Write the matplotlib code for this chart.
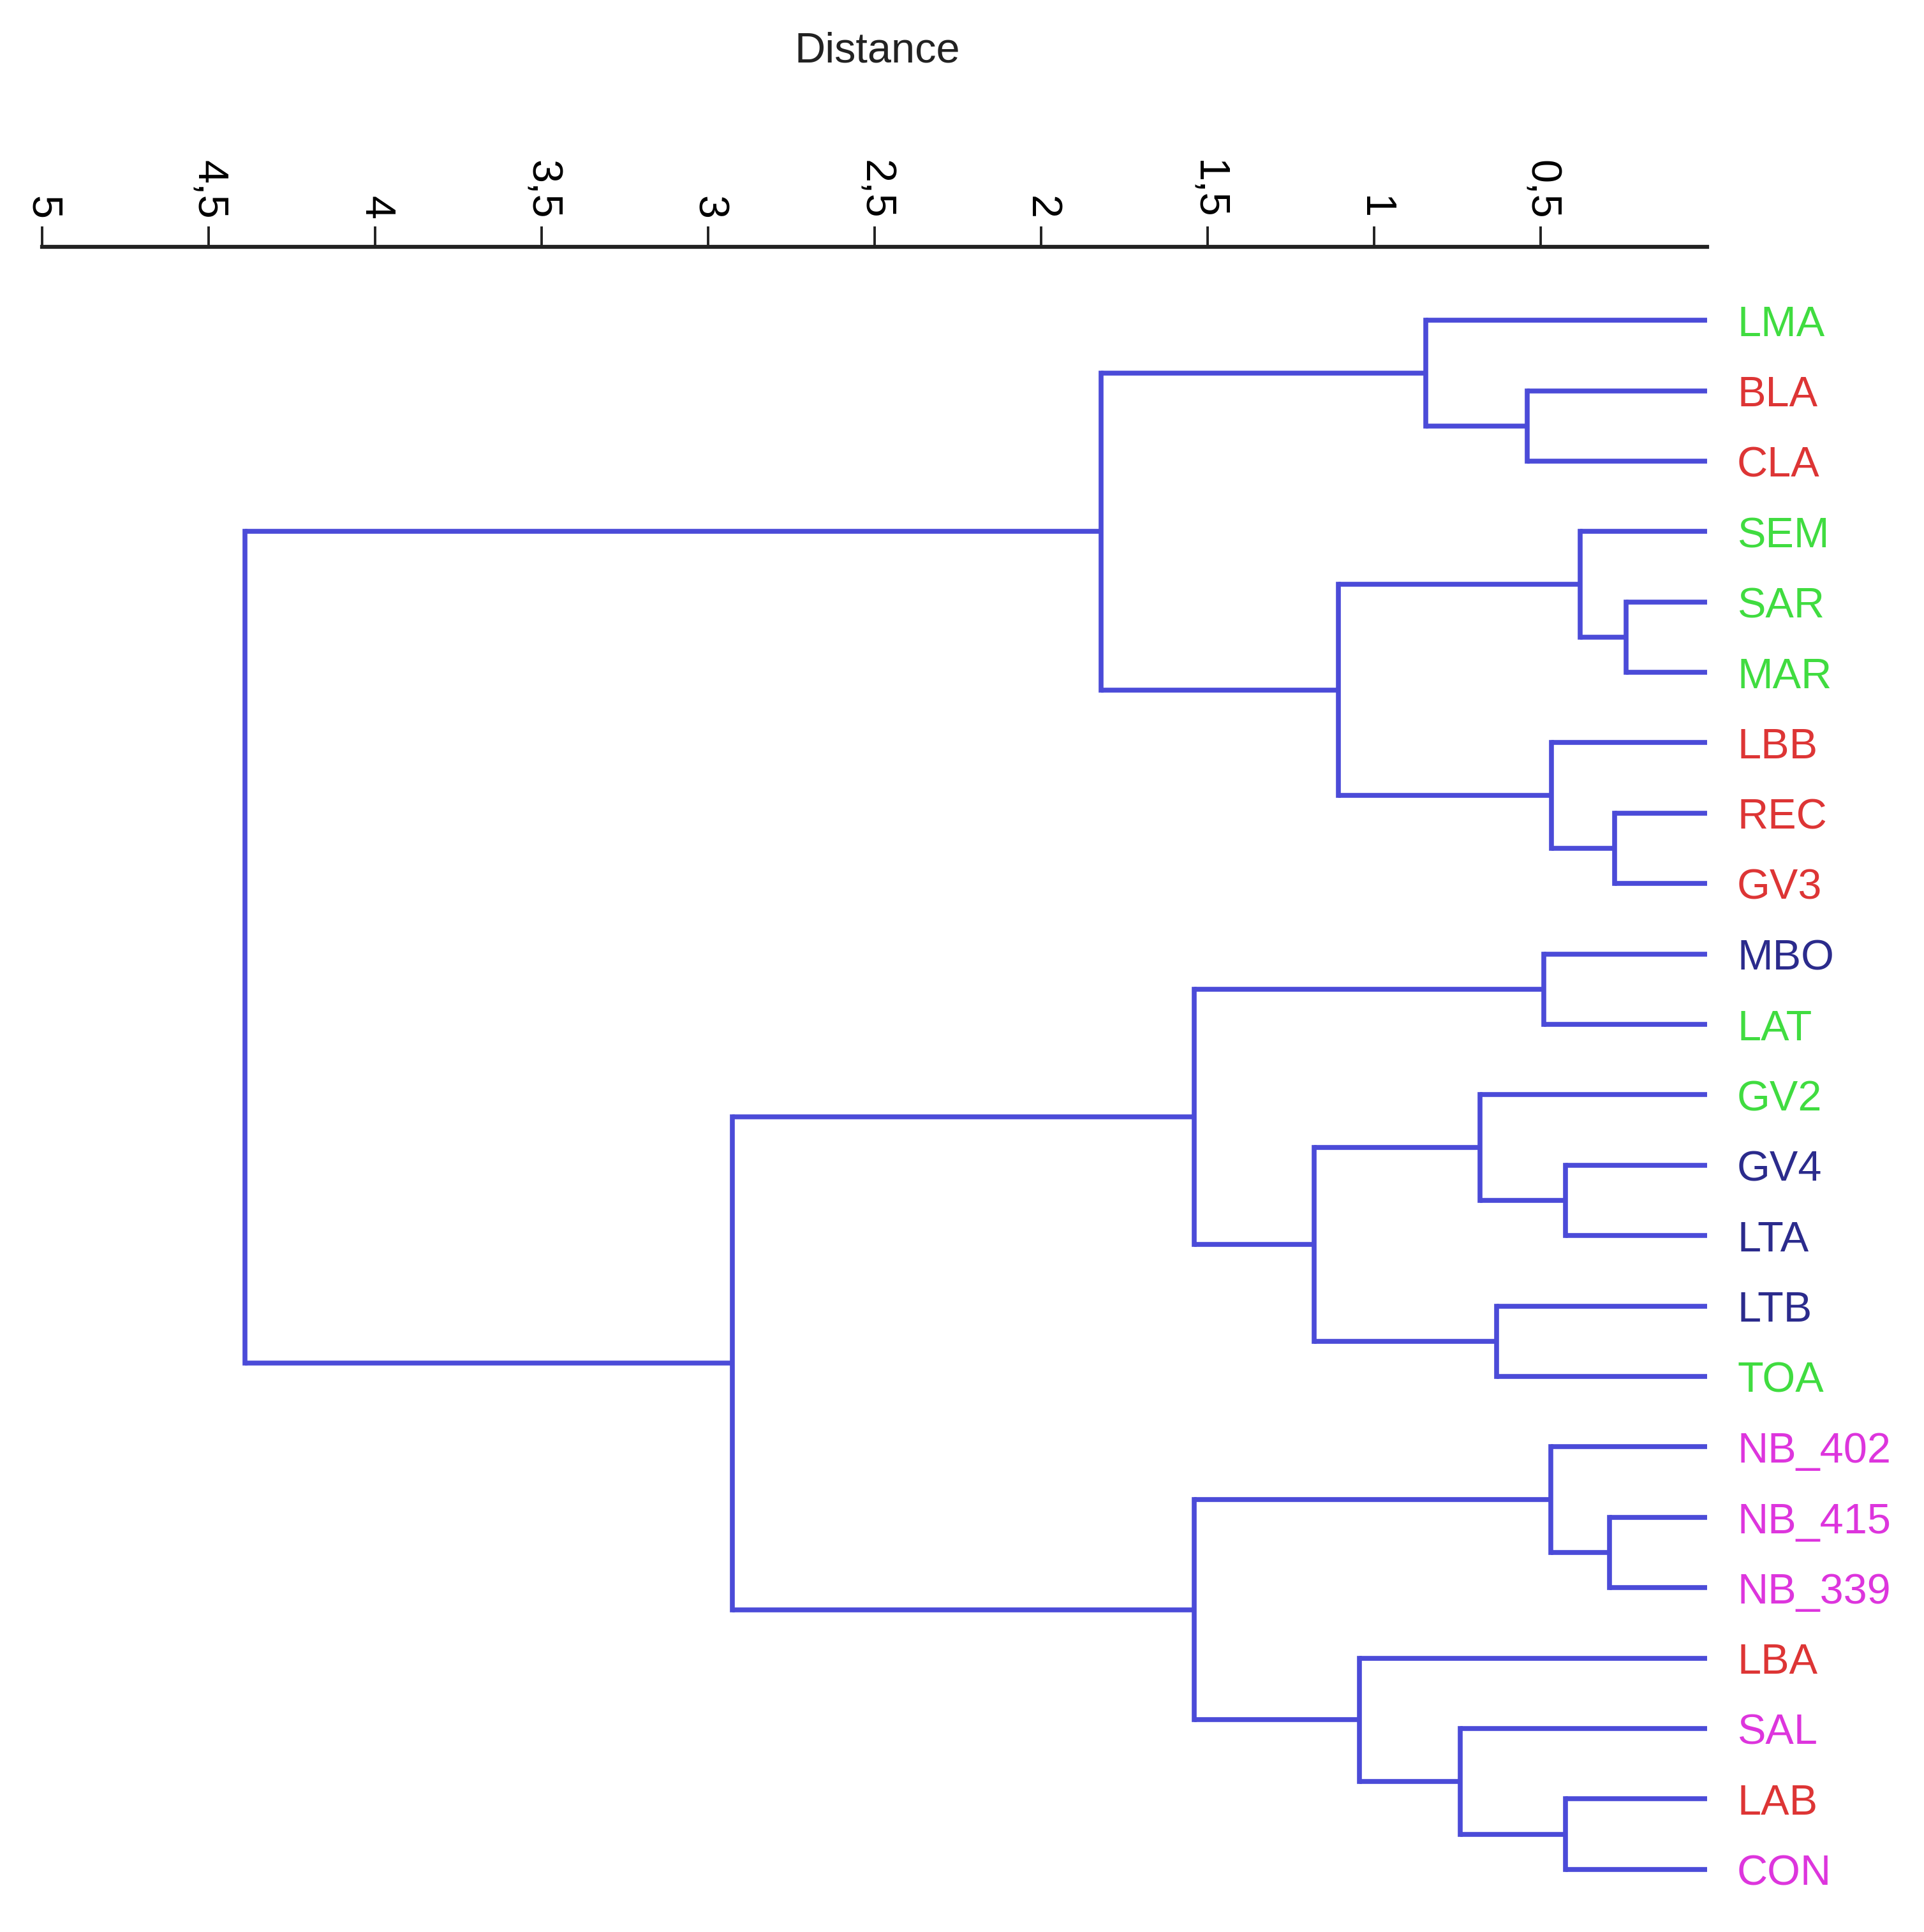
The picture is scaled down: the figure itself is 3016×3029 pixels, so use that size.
import matplotlib.pyplot as plt

plt.rcParams['font.family'] = ['Liberation Sans', 'DejaVu Sans']

# hojas del dendrograma, de arriba a abajo
leaves = ['LMA', 'BLA', 'CLA', 'SEM', 'SAR', 'MAR', 'LBB', 'REC', 'GV3',
          'MBO', 'LAT', 'GV2', 'GV4', 'LTA', 'LTB', 'TOA',
          'NB_402', 'NB_415', 'NB_339', 'LBA', 'SAL', 'LAB', 'CON']
leaf_groups = ['g', 'r', 'r', 'g', 'g', 'g', 'r', 'r', 'r',
               'b', 'g', 'g', 'b', 'b', 'b', 'g',
               'm', 'm', 'm', 'r', 'm', 'r', 'm']

# uniones: nodo nuevo = 23, 24, ... (indices de hojas 0..22)
merge_left = [4, 7, 17, 3, 12, 21, 6, 16, 9, 1, 14, 11, 20, 0, 19, 34, 26, 31, 30, 36, 40, 42]
merge_right = [5, 8, 18, 23, 13, 22, 24, 25, 10, 2, 15, 27, 28, 32, 35, 33, 29, 38, 37, 39, 41, 43]
merge_height = [0.244, 0.278, 0.293, 0.381, 0.426, 0.426, 0.467, 0.470, 0.490, 0.540,
                0.633, 0.682, 0.742, 0.845, 1.045, 1.180, 1.108, 1.540, 1.540, 1.820,
                2.928, 4.390]

ticks = [5, 4.5, 4, 3.5, 3, 2.5, 2, 1.5, 1, 0.5]
tick_labels = ['5', '4,5', '4', '3,5', '3', '2,5', '2', '1,5', '1', '0,5']

group_colors = {'g': '#40dc40', 'r': '#dd3535', 'b': '#2b2b8c', 'm': '#dd35dd'}
line_color = '#4b4bd8'

fig = plt.figure(figsize=(30.16, 30.29), dpi=100)
ax = fig.add_axes([0.0219, 0.0, 0.8654, 0.8722])

# posiciones y alturas de cada nodo
pos = {i: float(i) for i in range(len(leaves))}
height = {i: 0.0 for i in range(len(leaves))}
for k, (a, b, h) in enumerate(zip(merge_left, merge_right, merge_height)):
    node = len(leaves) + k
    ax.plot([height[a], h], [pos[a], pos[a]], color=line_color, lw=5.5, solid_capstyle='butt')
    ax.plot([height[b], h], [pos[b], pos[b]], color=line_color, lw=5.5, solid_capstyle='butt')
    ax.plot([h, h], [pos[a], pos[b]], color=line_color, lw=5.5, solid_capstyle='projecting')
    pos[node] = (pos[a] + pos[b]) / 2
    height[node] = h

for i, name in enumerate(leaves):
    ax.text(-0.09, i + 0.07, name, color=group_colors[leaf_groups[i]], fontsize=48,
            ha='left', va='center', clip_on=False)

ax.set_xlim(5, 0)
ax.set_ylim(22.89, -1.042)
ax.xaxis.tick_top()
ax.set_xticks(ticks)
ax.set_xticklabels(tick_labels, rotation=-90, fontsize=48)
ax.tick_params(axis='x', direction='out', length=23, width=2.8, pad=8, color='#222222')
ax.set_yticks([])
for s in ['left', 'right', 'bottom']:
    ax.spines[s].set_visible(False)
ax.spines['top'].set_linewidth(4.5)
ax.spines['top'].set_color('#222222')

fig.text(0.456, 0.9735, 'Distance', ha='center', va='center', fontsize=48, color='#222222')

fig.savefig('out.png', dpi=100, facecolor='white')
